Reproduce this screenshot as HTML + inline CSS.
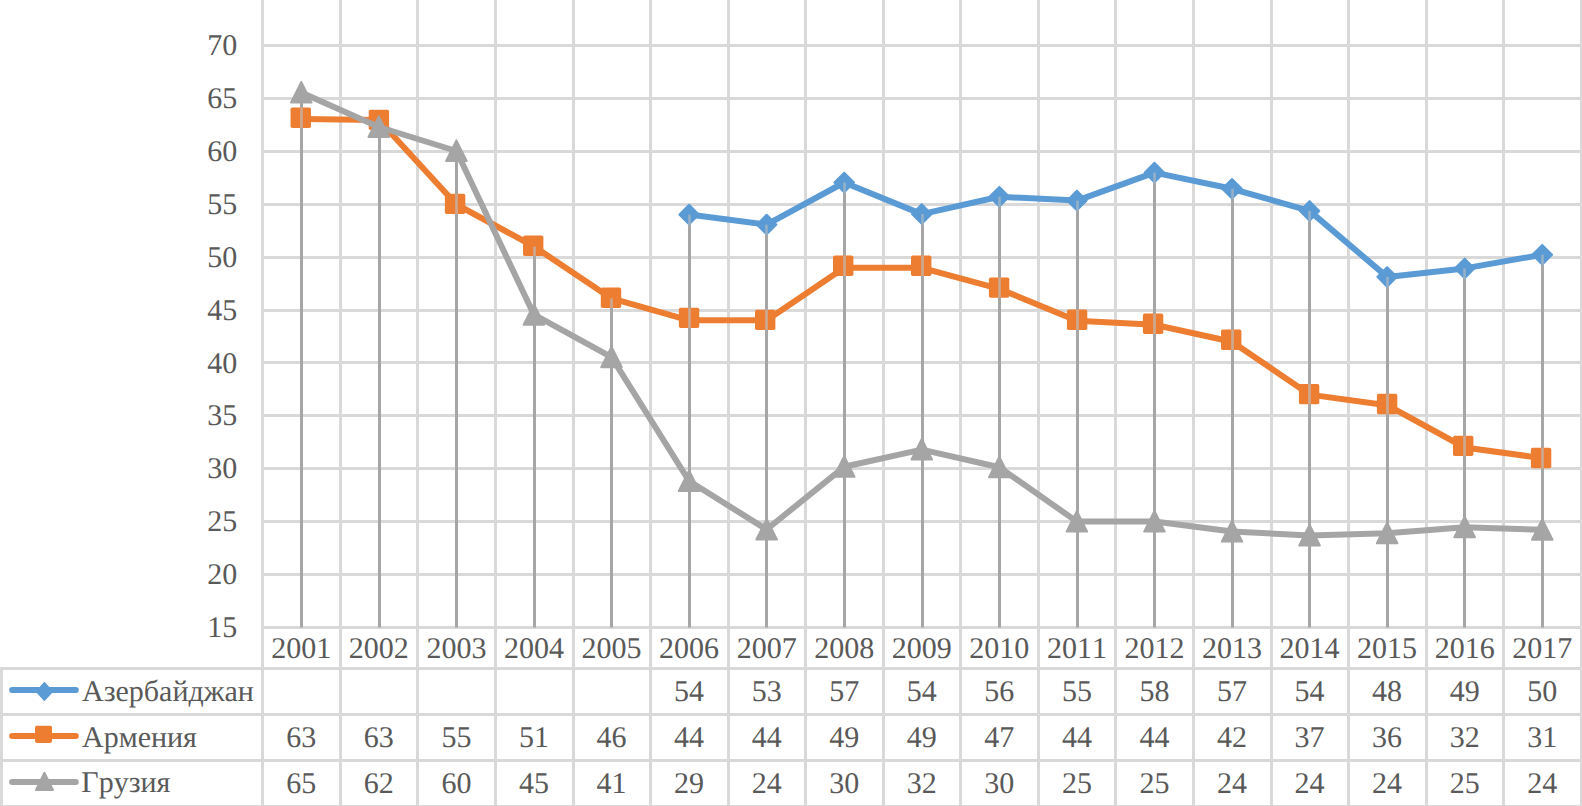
<!DOCTYPE html>
<html lang="ru">
<head>
<meta charset="utf-8">
<title>Азербайджан, Армения, Грузия</title>
<style>
html,body{margin:0;padding:0;background:#fff;}
body{width:1582px;height:806px;overflow:hidden;}
svg{display:block;}
text{font-family:"Liberation Serif","Times New Roman",serif;font-size:30px;fill:#595959;text-rendering:geometricPrecision;font-kerning:none;}
.g line{stroke:#D9D9D9;stroke-width:3;}
.d line{stroke:#A6A6A6;stroke-width:3;}
.s{fill:none;stroke-width:6;stroke-linejoin:round;stroke-linecap:round;}
.k{stroke-width:2;stroke-linejoin:round;}
.m{text-anchor:middle;}
.e{text-anchor:end;}
</style>
</head>
<body>
<svg width="1582" height="806" viewBox="0 0 1582 806">
<rect width="1582" height="806" fill="#fff"/>
<g class="g">
<line x1="261" y1="45.5" x2="1582" y2="45.5"/>
<line x1="261" y1="98.5" x2="1582" y2="98.5"/>
<line x1="261" y1="151.5" x2="1582" y2="151.5"/>
<line x1="261" y1="204.5" x2="1582" y2="204.5"/>
<line x1="261" y1="257.5" x2="1582" y2="257.5"/>
<line x1="261" y1="310.5" x2="1582" y2="310.5"/>
<line x1="261" y1="362.5" x2="1582" y2="362.5"/>
<line x1="261" y1="415.5" x2="1582" y2="415.5"/>
<line x1="261" y1="468.5" x2="1582" y2="468.5"/>
<line x1="261" y1="521.5" x2="1582" y2="521.5"/>
<line x1="261" y1="574.5" x2="1582" y2="574.5"/>
<line x1="261" y1="627.5" x2="1582" y2="627.5"/>
<line x1="262.5" y1="0" x2="262.5" y2="806"/>
<line x1="340.5" y1="0" x2="340.5" y2="806"/>
<line x1="417.5" y1="0" x2="417.5" y2="806"/>
<line x1="495.5" y1="0" x2="495.5" y2="806"/>
<line x1="573.5" y1="0" x2="573.5" y2="806"/>
<line x1="650.5" y1="0" x2="650.5" y2="806"/>
<line x1="728.5" y1="0" x2="728.5" y2="806"/>
<line x1="805.5" y1="0" x2="805.5" y2="806"/>
<line x1="883.5" y1="0" x2="883.5" y2="806"/>
<line x1="960.5" y1="0" x2="960.5" y2="806"/>
<line x1="1038.5" y1="0" x2="1038.5" y2="806"/>
<line x1="1115.5" y1="0" x2="1115.5" y2="806"/>
<line x1="1193.5" y1="0" x2="1193.5" y2="806"/>
<line x1="1271.5" y1="0" x2="1271.5" y2="806"/>
<line x1="1348.5" y1="0" x2="1348.5" y2="806"/>
<line x1="1426.5" y1="0" x2="1426.5" y2="806"/>
<line x1="1503.5" y1="0" x2="1503.5" y2="806"/>
<line x1="1581.5" y1="0" x2="1581.5" y2="806"/>
<line x1="0" y1="668.5" x2="1582" y2="668.5"/>
<line x1="0" y1="714.5" x2="1582" y2="714.5"/>
<line x1="0" y1="760.5" x2="1582" y2="760.5"/>
<line x1="0" y1="806.5" x2="1582" y2="806.5"/>
<line x1="1.5" y1="667" x2="1.5" y2="806"/>
</g>
<g class="d">
<line x1="301.5" y1="92.6" x2="301.5" y2="627.5"/>
<line x1="379.5" y1="120" x2="379.5" y2="627.5"/>
<line x1="456.5" y1="151" x2="456.5" y2="627.5"/>
<line x1="534.5" y1="246.5" x2="534.5" y2="627.5"/>
<line x1="611.5" y1="298.4" x2="611.5" y2="627.5"/>
<line x1="689.5" y1="214.6" x2="689.5" y2="627.5"/>
<line x1="766.5" y1="224.6" x2="766.5" y2="627.5"/>
<line x1="844.5" y1="182.5" x2="844.5" y2="627.5"/>
<line x1="922.5" y1="214.1" x2="922.5" y2="627.5"/>
<line x1="999.5" y1="196.7" x2="999.5" y2="627.5"/>
<line x1="1077.5" y1="200.6" x2="1077.5" y2="627.5"/>
<line x1="1154.5" y1="172.6" x2="1154.5" y2="627.5"/>
<line x1="1232.5" y1="188.8" x2="1232.5" y2="627.5"/>
<line x1="1309.5" y1="210.9" x2="1309.5" y2="627.5"/>
<line x1="1387.5" y1="276.9" x2="1387.5" y2="627.5"/>
<line x1="1464.5" y1="268.4" x2="1464.5" y2="627.5"/>
<line x1="1542.5" y1="254.7" x2="1542.5" y2="627.5"/>
</g>
<polyline class="s" stroke="#5B9BD5" points="689.08,214.6 766.64,224.6 844.2,182.5 921.76,214.1 999.32,196.7 1076.88,200.6 1154.44,172.6 1232,188.8 1309.56,210.9 1387.12,276.9 1464.68,268.4 1542.24,254.7"/>
<g class="k" fill="#5B9BD5" stroke="#5B9BD5">
<path d="M689.08 204.8L698.88 214.6L689.08 224.4L679.28 214.6Z"/>
<path d="M766.64 214.8L776.44 224.6L766.64 234.4L756.84 224.6Z"/>
<path d="M844.2 172.7L854 182.5L844.2 192.3L834.4 182.5Z"/>
<path d="M921.76 204.3L931.56 214.1L921.76 223.9L911.96 214.1Z"/>
<path d="M999.32 186.9L1009.12 196.7L999.32 206.5L989.52 196.7Z"/>
<path d="M1076.88 190.8L1086.68 200.6L1076.88 210.4L1067.08 200.6Z"/>
<path d="M1154.44 162.8L1164.24 172.6L1154.44 182.4L1144.64 172.6Z"/>
<path d="M1232 179L1241.8 188.8L1232 198.6L1222.2 188.8Z"/>
<path d="M1309.56 201.1L1319.36 210.9L1309.56 220.7L1299.76 210.9Z"/>
<path d="M1387.12 267.1L1396.92 276.9L1387.12 286.7L1377.32 276.9Z"/>
<path d="M1464.68 258.6L1474.48 268.4L1464.68 278.2L1454.88 268.4Z"/>
<path d="M1542.24 244.9L1552.04 254.7L1542.24 264.5L1532.44 254.7Z"/>
</g>
<polyline class="s" stroke="#ED7D31" points="301.28,119 378.84,120 456.4,204.5 533.96,246.5 611.52,298.4 689.08,320.3 766.64,320.3 844.2,267.7 921.76,267.8 999.32,288.8 1076.88,320.8 1154.44,324.8 1232,341.7 1309.56,394.6 1387.12,405.2 1464.68,447.5 1542.24,458.1"/>
<g fill="#ED7D31">
<rect x="290.55" y="107.55" width="20.4" height="20.4" rx="1.8"/>
<rect x="368.7" y="109.7" width="20.4" height="20.4" rx="1.8"/>
<rect x="444.9" y="193.7" width="20.4" height="20.4" rx="1.8"/>
<rect x="523" y="235.6" width="20.4" height="20.4" rx="1.8"/>
<rect x="600.8" y="287.6" width="20.4" height="20.4" rx="1.8"/>
<rect x="678.85" y="307.7" width="20.4" height="20.4" rx="1.8"/>
<rect x="755" y="309.7" width="20.4" height="20.4" rx="1.8"/>
<rect x="833" y="255.6" width="20.4" height="20.4" rx="1.8"/>
<rect x="911" y="255.6" width="20.4" height="20.4" rx="1.8"/>
<rect x="988.9" y="277.4" width="20.4" height="20.4" rx="1.8"/>
<rect x="1066.9" y="309.6" width="20.4" height="20.4" rx="1.8"/>
<rect x="1142.9" y="313.6" width="20.4" height="20.4" rx="1.8"/>
<rect x="1221" y="329.6" width="20.4" height="20.4" rx="1.8"/>
<rect x="1298.9" y="383.9" width="20.4" height="20.4" rx="1.8"/>
<rect x="1376.9" y="393.8" width="20.4" height="20.4" rx="1.8"/>
<rect x="1453" y="435.7" width="20.4" height="20.4" rx="1.8"/>
<rect x="1530.9" y="447.8" width="20.4" height="20.4" rx="1.8"/>
</g>
<g stroke="#BEBEBE" stroke-width="2.6">
<g opacity="0.7">
<line x1="301.5" y1="107.55" x2="301.5" y2="127.95"/>
<line x1="379.5" y1="120" x2="379.5" y2="130.1"/>
<line x1="456.5" y1="193.7" x2="456.5" y2="214.1"/>
<line x1="534.5" y1="246.5" x2="534.5" y2="256"/>
<line x1="611.5" y1="298.4" x2="611.5" y2="308"/>
<line x1="689.5" y1="307.7" x2="689.5" y2="328.1"/>
<line x1="766.5" y1="309.7" x2="766.5" y2="330.1"/>
<line x1="844.5" y1="255.6" x2="844.5" y2="276"/>
<line x1="922.5" y1="255.6" x2="922.5" y2="276"/>
<line x1="999.5" y1="277.4" x2="999.5" y2="297.8"/>
<line x1="1077.5" y1="309.6" x2="1077.5" y2="330"/>
<line x1="1154.5" y1="313.6" x2="1154.5" y2="334"/>
<line x1="1232.5" y1="329.6" x2="1232.5" y2="350"/>
<line x1="1309.5" y1="383.9" x2="1309.5" y2="404.3"/>
<line x1="1387.5" y1="393.8" x2="1387.5" y2="414.2"/>
<line x1="1464.5" y1="435.7" x2="1464.5" y2="456.1"/>
<line x1="1542.5" y1="447.8" x2="1542.5" y2="468.2"/>
</g>
<g opacity="0.6">
<line x1="689.5" y1="214.6" x2="689.5" y2="225.4"/>
<line x1="766.5" y1="224.6" x2="766.5" y2="235.4"/>
<line x1="844.5" y1="182.5" x2="844.5" y2="193.3"/>
<line x1="922.5" y1="214.1" x2="922.5" y2="224.9"/>
<line x1="999.5" y1="196.7" x2="999.5" y2="207.5"/>
<line x1="1077.5" y1="200.6" x2="1077.5" y2="211.4"/>
<line x1="1154.5" y1="172.6" x2="1154.5" y2="183.4"/>
<line x1="1232.5" y1="188.8" x2="1232.5" y2="199.6"/>
<line x1="1309.5" y1="210.9" x2="1309.5" y2="221.7"/>
<line x1="1387.5" y1="276.9" x2="1387.5" y2="287.7"/>
<line x1="1464.5" y1="268.4" x2="1464.5" y2="279.2"/>
<line x1="1542.5" y1="254.7" x2="1542.5" y2="265.5"/>
</g>
</g>
<polyline class="s" stroke="#A5A5A5" points="301.28,92.6 378.84,127 456.4,151 533.96,314.7 611.52,357.2 689.08,481 766.64,529.5 844.2,466.8 921.76,449.6 999.32,467.2 1076.88,521.6 1154.44,521.6 1232,531.6 1309.56,535.4 1387.12,533.3 1464.68,527.3 1542.24,529.7"/>
<g class="k" fill="#A5A5A5" stroke="#A5A5A5">
<path d="M301.28 82L311.58 102.6L290.98 102.6Z"/>
<path d="M378.84 116.4L389.14 137L368.54 137Z"/>
<path d="M456.4 140.4L466.7 161L446.1 161Z"/>
<path d="M533.96 304.1L544.26 324.7L523.66 324.7Z"/>
<path d="M611.52 346.6L621.82 367.2L601.22 367.2Z"/>
<path d="M689.08 470.4L699.38 491L678.78 491Z"/>
<path d="M766.64 518.9L776.94 539.5L756.34 539.5Z"/>
<path d="M844.2 456.2L854.5 476.8L833.9 476.8Z"/>
<path d="M921.76 439L932.06 459.6L911.46 459.6Z"/>
<path d="M999.32 456.6L1009.62 477.2L989.02 477.2Z"/>
<path d="M1076.88 511L1087.18 531.6L1066.58 531.6Z"/>
<path d="M1154.44 511L1164.74 531.6L1144.14 531.6Z"/>
<path d="M1232 521L1242.3 541.6L1221.7 541.6Z"/>
<path d="M1309.56 524.8L1319.86 545.4L1299.26 545.4Z"/>
<path d="M1387.12 522.7L1397.42 543.3L1376.82 543.3Z"/>
<path d="M1464.68 516.7L1474.98 537.3L1454.38 537.3Z"/>
<path d="M1542.24 519.1L1552.54 539.7L1531.94 539.7Z"/>
</g>
<g class="s">
<line x1="12.1" y1="690.05" x2="75.8" y2="690.05" stroke="#5B9BD5"/>
<line x1="12.1" y1="736" x2="75.8" y2="736" stroke="#ED7D31"/>
<line x1="12.1" y1="782" x2="75.8" y2="782" stroke="#A5A5A5"/>
</g>
<path class="k" fill="#5B9BD5" stroke="#5B9BD5" d="M44.4 683.1L52.1 691.5L44.4 699.9L36.8 691.5Z"/>
<rect fill="#ED7D31" x="35" y="725.8" width="17" height="17.1" rx="1.8"/>
<path class="k" fill="#A5A5A5" stroke="#A5A5A5" d="M44.4 772.8L53 789.9L36 789.9Z"/>
<g class="e">
<text x="237.3" y="55">70</text>
<text x="237.3" y="108">65</text>
<text x="237.3" y="161">60</text>
<text x="237.3" y="214">55</text>
<text x="237.3" y="267">50</text>
<text x="237.3" y="320">45</text>
<text x="237.3" y="373">40</text>
<text x="237.3" y="425">35</text>
<text x="237.3" y="478">30</text>
<text x="237.3" y="531">25</text>
<text x="237.3" y="584">20</text>
<text x="237.3" y="637">15</text>
</g>
<g class="m">
<text x="301.28" y="658">2001</text>
<text x="378.84" y="658">2002</text>
<text x="456.4" y="658">2003</text>
<text x="533.96" y="658">2004</text>
<text x="611.52" y="658">2005</text>
<text x="689.08" y="658">2006</text>
<text x="766.64" y="658">2007</text>
<text x="844.2" y="658">2008</text>
<text x="921.76" y="658">2009</text>
<text x="999.32" y="658">2010</text>
<text x="1076.88" y="658">2011</text>
<text x="1154.44" y="658">2012</text>
<text x="1232" y="658">2013</text>
<text x="1309.56" y="658">2014</text>
<text x="1387.12" y="658">2015</text>
<text x="1464.68" y="658">2016</text>
<text x="1542.24" y="658">2017</text>
<text x="689.08" y="701">54</text>
<text x="766.64" y="701">53</text>
<text x="844.2" y="701">57</text>
<text x="921.76" y="701">54</text>
<text x="999.32" y="701">56</text>
<text x="1076.88" y="701">55</text>
<text x="1154.44" y="701">58</text>
<text x="1232" y="701">57</text>
<text x="1309.56" y="701">54</text>
<text x="1387.12" y="701">48</text>
<text x="1464.68" y="701">49</text>
<text x="1542.24" y="701">50</text>
<text x="301.28" y="747">63</text>
<text x="378.84" y="747">63</text>
<text x="456.4" y="747">55</text>
<text x="533.96" y="747">51</text>
<text x="611.52" y="747">46</text>
<text x="689.08" y="747">44</text>
<text x="766.64" y="747">44</text>
<text x="844.2" y="747">49</text>
<text x="921.76" y="747">49</text>
<text x="999.32" y="747">47</text>
<text x="1076.88" y="747">44</text>
<text x="1154.44" y="747">44</text>
<text x="1232" y="747">42</text>
<text x="1309.56" y="747">37</text>
<text x="1387.12" y="747">36</text>
<text x="1464.68" y="747">32</text>
<text x="1542.24" y="747">31</text>
<text x="301.28" y="793">65</text>
<text x="378.84" y="793">62</text>
<text x="456.4" y="793">60</text>
<text x="533.96" y="793">45</text>
<text x="611.52" y="793">41</text>
<text x="689.08" y="793">29</text>
<text x="766.64" y="793">24</text>
<text x="844.2" y="793">30</text>
<text x="921.76" y="793">32</text>
<text x="999.32" y="793">30</text>
<text x="1076.88" y="793">25</text>
<text x="1154.44" y="793">25</text>
<text x="1232" y="793">24</text>
<text x="1309.56" y="793">24</text>
<text x="1387.12" y="793">24</text>
<text x="1464.68" y="793">25</text>
<text x="1542.24" y="793">24</text>
</g>
<text x="82" y="701">Азербайджан</text>
<text x="82" y="747">Армения</text>
<text x="81.3" y="792">Грузия</text>
</svg>
</body>
</html>
